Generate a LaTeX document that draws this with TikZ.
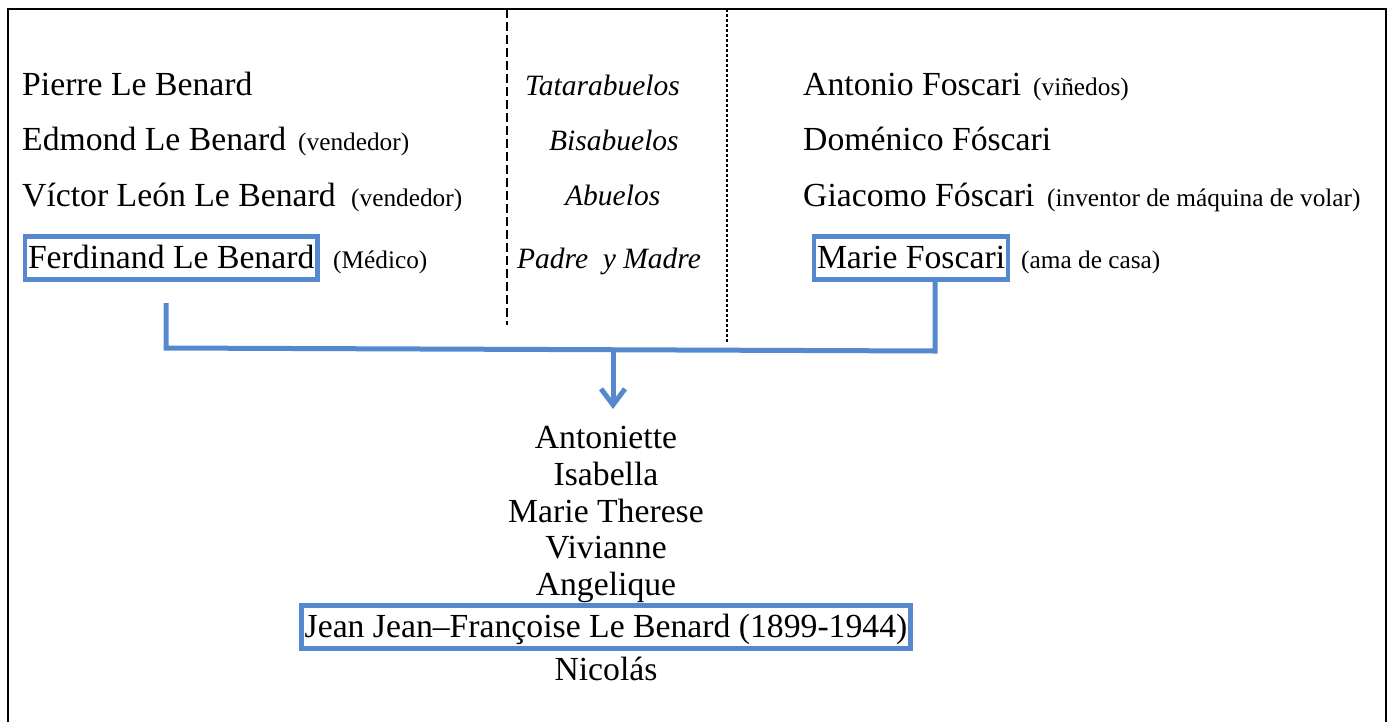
\documentclass[tikz,border=0pt]{standalone}
\usepackage{fontspec}
\setmainfont{Liberation Serif}
\usetikzlibrary{arrows.meta}
\definecolor{boxblue}{HTML}{5588CC}
\begin{document}
\begin{tikzpicture}[x=1pt,y=-1pt,
  big/.style={font=\fontsize{33.7}{40}\selectfont, inner sep=0pt},
  small/.style={font=\fontsize{25.3}{30}\selectfont, inner sep=0pt},
  ital/.style={font=\fontsize{29.5}{35}\selectfont\itshape, inner sep=0pt},
  namebox/.style={font=\fontsize{33.7}{40}\selectfont, draw=boxblue, line width=4.5pt,
    inner xsep=3pt, inner ysep=4pt, text height=27.5pt, text depth=7.5pt},
  conn/.style={draw=boxblue, line width=5pt},
  frame/.style={line width=2pt},
  sepA/.style={line width=1.8pt, dash pattern=on 9pt off 4pt},
  sepB/.style={line width=1.3pt, dash pattern=on 3pt off 2pt}]
\useasboundingbox (0,0) rectangle (1392,721);
% frame
\draw[frame] (8,730) -- (8,9) -- (1386,9) -- (1386,730);
% separators
\coordinate (s1t) at (507,9);
\coordinate (s1b) at (507,325);
\coordinate (s2t) at (727,9);
\coordinate (s2b) at (727,343);
\draw[sepA] (s1t) -- (s1b);
\draw[sepB] (s2t) -- (s2b);
% left column
\node[big, anchor=base west] (p1) at (22,95) {Pierre Le Benard};
\node[big, anchor=base west] (p2) at (22,150) {Edmond Le Benard};
\node[small, anchor=base west] (p2o) at (298,150) {(vendedor)};
\node[big, anchor=base west] (p3) at (22,206) {Víctor León Le Benard};
\node[small, anchor=base west] (p3o) at (351,206) {(vendedor)};
\node[namebox, anchor=base west] (ferd) at (22.75,268) {Ferdinand Le Benard};
\node[small, anchor=base west] (ferdo) at (333,268) {(Médico)};
% middle column
\node[ital, anchor=base west] (g1) at (525,95) {Tatarabuelos};
\node[ital, anchor=base west] (g2) at (549,150) {Bisabuelos};
\node[ital, anchor=base west] (g3) at (565,205) {Abuelos};
\node[ital, anchor=base west] (g4) at (517,268) {Padre\ \ y Madre};
% right column
\node[big, anchor=base west] (m1) at (803,95) {Antonio Foscari};
\node[small, anchor=base west] (m1o) at (1033,95) {(viñedos)};
\node[big, anchor=base west] (m2) at (803,150) {Doménico Fóscari};
\node[big, anchor=base west] (m3) at (803,206) {Giacomo Fóscari};
\node[small, anchor=base west] (m3o) at (1047,206) {(inventor de máquina de volar)};
\node[namebox, anchor=base west] (marie) at (811.75,268) {Marie Foscari\hspace{9pt}};
\node[small, anchor=base west] (marieo) at (1021,268) {(ama de casa)};
% children
\node[big, anchor=base] (c1) at (606,448) {Antoniette};
\node[big, anchor=base] (c2) at (606,485) {Isabella};
\node[big, anchor=base] (c3) at (606,522) {Marie Therese};
\node[big, anchor=base] (c4) at (606,558) {Vivianne};
\node[big, anchor=base] (c5) at (606,595) {Angelique};
\node[namebox, anchor=base] (jean) at (606,637) {Jean Jean–Françoise Le Benard (1899-1944)};
\node[big, anchor=base] (c7) at (606,680) {Nicolás};
% connectors
\coordinate (fl) at (166,303);
\coordinate (hl) at (166,348);
\coordinate (hr) at (935,351);
\coordinate (hm) at (613,349.5);
\coordinate (tip) at (613,409);
\draw[conn] (fl) -- (hl) -- (hr) -- (marie.south -| hr);
\draw[conn, -{Straight Barb[length=16pt,width=24pt]}] (hm) -- (tip);
\end{tikzpicture}
\end{document}
